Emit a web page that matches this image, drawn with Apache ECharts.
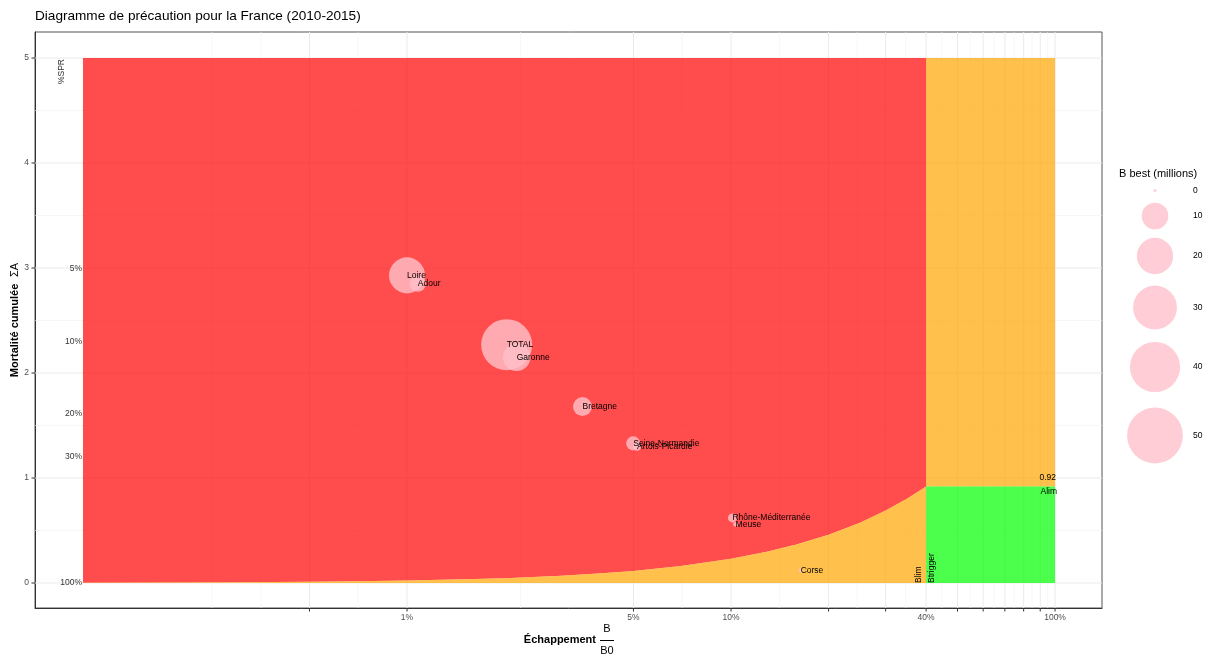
<!DOCTYPE html>
<html>
<head>
<meta charset="utf-8">
<script src="https://cdn.jsdelivr.net/npm/echarts@6/dist/echarts.min.js"></script>
<style>html,body{margin:0;padding:0;background:#fff}#c{width:1219px;height:657px}</style>
</head>
<body>
<div id="c"></div>
<script>
// ---- data ----
const chartTitle = 'Diagramme de précaution pour la France (2010-2015)';
const names = ['Loire','Adour','TOTAL','Garonne','Bretagne','Seine-Normandie','Artois-Picardie','Rhône-Méditerranée','Meuse','Corse'];
const escapement = [1.0, 1.08, 2.03, 2.18, 3.48, 4.99, 5.13, 10.1, 10.33, 16.4];      // % B/B0
const mortality  = [2.93, 2.85, 2.27, 2.15, 1.68, 1.33, 1.30, 0.62, 0.56, 0.12];       // sum A
const bBest      = [19.6, 3.0, 41.4, 10.7, 4.6, 2.2, 0.5, 0.65, 0.07, 0.02];           // millions

// boundary between red and orange zone
const boundX = [0.1, 0.2, 0.3, 0.5, 0.7, 1, 1.5, 2, 3, 4, 5, 7, 10, 13, 16, 20, 25, 30, 35, 40];
const boundY = [0.002, 0.005, 0.007, 0.012, 0.016, 0.023, 0.035, 0.046, 0.069, 0.092, 0.115, 0.161, 0.23, 0.3, 0.37, 0.46, 0.575, 0.69, 0.805, 0.92];
const zoneXStart = 0.1, bLim = 40, zoneXEnd = 100, zoneYTop = 5, aLim = 0.92;

const xTickVals   = [0.5, 1, 5, 10, 20, 30, 40, 50, 60, 70, 80, 90, 100];
const xTickLabels = ['', '1%', '5%', '10%', '', '', '40%', '', '', '', '', '', '100%'];
const xMinorGrid  = [0.25, 0.354, 0.707, 2.24, 7.07, 14.1, 24.5, 34.6, 44.7, 54.8, 64.8, 74.8, 84.9, 94.9];
const yTickVals   = [0, 1, 2, 3, 4, 5];
const yTickLabels = ['0', '1', '2', '3', '4', '5'];
const yMinorGrid  = [0.5, 1.5, 2.5, 3.5, 4.5];
const sprLabels    = ['5%', '10%', '20%', '30%', '100%'];
const sprMortality = [2.996, 2.303, 1.609, 1.204, 0];
const legendVals   = [0, 10, 20, 30, 40, 50];

const XMIN = 0.0711, XMAX = 139.6, YMIN = -0.238, YMAX = 5.248;
const FONT = '"Liberation Sans", Arial, sans-serif';
const FS = 8.5;
const radius = v => 1.5 + 3.73 * Math.sqrt(v);

const chart = echarts.init(document.getElementById('c'), null, {renderer: 'canvas'});

function line(a, b, stroke, w) {
  return {type: 'line', shape: {x1: a[0], y1: a[1], x2: b[0], y2: b[1]}, style: {stroke: stroke, lineWidth: w}};
}
function txt(x, y, s, opts) {
  return {type: 'text', x: x, y: y, style: Object.assign({text: s, fontSize: FS, fontFamily: FONT, fill: '#000', align: 'left', verticalAlign: 'middle'}, opts || {})};
}

function renderGrid(params, api) {
  const ch = [];
  xMinorGrid.forEach(v => ch.push(line(api.coord([v, YMIN]), api.coord([v, YMAX]), '#f1f1f1', 0.6)));
  yMinorGrid.forEach(v => ch.push(line(api.coord([XMIN, v]), api.coord([XMAX, v]), '#f1f1f1', 0.6)));
  xTickVals.forEach(v => ch.push(line(api.coord([v, YMIN]), api.coord([v, YMAX]), '#ebebeb', 1)));
  yTickVals.forEach(v => ch.push(line(api.coord([XMIN, v]), api.coord([XMAX, v]), '#ebebeb', 1)));
  return {type: 'group', children: ch};
}

function renderZones(params, api) {
  const curve = boundX.map((x, i) => api.coord([x, boundY[i]]));
  const red = [api.coord([zoneXStart, zoneYTop]), api.coord([bLim, zoneYTop])].concat(curve.slice().reverse());
  const orangeLow = [api.coord([zoneXStart, 0])].concat(curve).concat([api.coord([bLim, 0])]);
  const orangeUp = [api.coord([bLim, aLim]), api.coord([bLim, zoneYTop]), api.coord([zoneXEnd, zoneYTop]), api.coord([zoneXEnd, aLim])];
  const green = [api.coord([bLim, 0]), api.coord([bLim, aLim]), api.coord([zoneXEnd, aLim]), api.coord([zoneXEnd, 0])];
  const poly = (pts, c) => ({type: 'polygon', shape: {points: pts}, style: {fill: c, opacity: 0.7}});
  return {type: 'group', children: [
    poly(red, '#ff0000'), poly(orangeLow, '#ffa500'), poly(orangeUp, '#ffa500'), poly(green, '#00ff00')
  ]};
}

function renderAxes(params, api) {
  const ch = [];
  xTickVals.forEach((v, i) => {
    const a = api.coord([v, YMIN]);
    ch.push(line([a[0], a[1]], [a[0], a[1] + 3.5], '#333', 1));
    if (xTickLabels[i]) ch.push(txt(a[0], a[1] + 10, xTickLabels[i], {align: 'center', fill: '#4d4d4d'}));
  });
  yTickVals.forEach((v, i) => {
    const a = api.coord([XMIN, v]);
    ch.push(line([a[0] - 3.5, a[1]], [a[0], a[1]], '#333', 1));
    ch.push(txt(a[0] - 6, a[1], yTickLabels[i], {align: 'right', fill: '#4d4d4d'}));
  });
  return {type: 'group', children: ch};
}

function renderAnnot(params, api) {
  const ch = [];
  const top = api.coord([zoneXStart, zoneYTop]);
  const spr = txt(top[0] - 21, top[1] + 1, '%SPR', {align: 'right', fill: '#333'});
  spr.rotation = Math.PI / 2; ch.push(spr);
  sprLabels.forEach((s, i) => {
    const p = api.coord([zoneXStart, sprMortality[i]]);
    ch.push(txt(p[0] - 1, p[1], s, {align: 'right', fill: '#333'}));
  });
  const pa = api.coord([zoneXEnd, aLim]);
  ch.push(txt(pa[0] + 1, pa[1] - 9, String(aLim), {align: 'right'}));
  ch.push(txt(pa[0] + 2, pa[1] + 5, 'Alim', {align: 'right'}));
  const pb = api.coord([bLim, 0]);
  const bl = txt(pb[0] - 3, pb[1], 'Blim', {align: 'left', verticalAlign: 'bottom'}); bl.rotation = Math.PI / 2; ch.push(bl);
  const bt = txt(pb[0] + 1, pb[1], 'Btrigger', {align: 'left', verticalAlign: 'top'}); bt.rotation = Math.PI / 2; ch.push(bt);
  return {type: 'group', children: ch};
}

function renderLabels(params, api) {
  const p = api.coord([api.value(0), api.value(1)]);
  return txt(p[0], p[1], names[params.dataIndex], {align: 'left'});
}

const pts = escapement.map((x, i) => [x, mortality[i], bBest[i]]);

const legendChildren = [
  {type: 'text', left: 1119, top: 168, style: {text: 'B best (millions)', fontSize: 11, fontFamily: FONT, fill: '#000'}}
];
const legendY = [190.5, 216, 256, 307.5, 367, 435.5];
legendVals.forEach((v, i) => {
  legendChildren.push({type: 'circle', shape: {cx: 1155, cy: legendY[i], r: radius(v)}, style: {fill: '#ffc0cb', opacity: 0.8}});
  legendChildren.push({type: 'text', x: 1193, y: legendY[i], style: {text: String(v), fontSize: FS, fontFamily: FONT, fill: '#000', verticalAlign: 'middle'}});
});

chart.setOption({
  animation: false,
  backgroundColor: '#fff',
  textStyle: {fontFamily: FONT},
  grid: {left: 35, top: 32, right: 117, bottom: 49, show: true, borderColor: '#555', borderWidth: 1, backgroundColor: 'transparent'},
  xAxis: {type: 'log', logBase: 10, min: XMIN, max: XMAX,
    axisLine: {show: true, onZero: false, lineStyle: {color: '#333'}}, axisTick: {show: false}, axisLabel: {show: false}, splitLine: {show: false}},
  yAxis: {type: 'value', min: YMIN, max: YMAX,
    axisLine: {show: true, onZero: false, lineStyle: {color: '#333'}}, axisTick: {show: false}, axisLabel: {show: false}, splitLine: {show: false}},
  series: [
    {type: 'custom', z: 1, renderItem: renderGrid, data: [[1, 1]], silent: true},
    {type: 'custom', z: 2, renderItem: renderZones, data: [[1, 1]], silent: true},
    {type: 'scatter', z: 3, data: pts, symbol: 'circle',
      symbolSize: v => 2 * radius(v[2]),
      itemStyle: {color: '#ffc0cb', opacity: 0.8}, silent: true},
    {type: 'custom', z: 4, renderItem: renderLabels, data: pts, silent: true},
    {type: 'custom', z: 5, renderItem: renderAnnot, data: [[1, 1]], silent: true},
    {type: 'custom', z: 5, renderItem: renderAxes, data: [[1, 1]], silent: true, clip: false}
  ],
  graphic: [
    {type: 'text', left: 35, top: 9, style: {text: chartTitle, fontSize: 13.6, fontFamily: FONT, fill: '#000'}},
    {type: 'text', x: 15, y: 320, rotation: Math.PI / 2,
      style: {text: '{b|Mortalité cumulée}  {n|ΣA}', align: 'center', verticalAlign: 'middle', fontFamily: FONT,
        rich: {b: {fontSize: 11, fontWeight: 'bold', fontFamily: FONT, fill: '#000'}, n: {fontSize: 11, fontFamily: FONT, fill: '#000'}}}},
    {type: 'text', x: 596, y: 640, style: {text: 'Échappement', fontSize: 11, fontWeight: 'bold', fontFamily: FONT, fill: '#000', align: 'right', verticalAlign: 'middle'}},
    {type: 'text', x: 607, y: 629, style: {text: 'B', fontSize: 11, fontFamily: FONT, fill: '#000', align: 'center', verticalAlign: 'middle'}},
    {type: 'line', shape: {x1: 600, y1: 640.5, x2: 614, y2: 640.5}, style: {stroke: '#000', lineWidth: 1}},
    {type: 'text', x: 607, y: 651, style: {text: 'B0', fontSize: 11, fontFamily: FONT, fill: '#000', align: 'center', verticalAlign: 'middle'}},
    {type: 'group', children: legendChildren}
  ]
});
</script>
</body>
</html>
